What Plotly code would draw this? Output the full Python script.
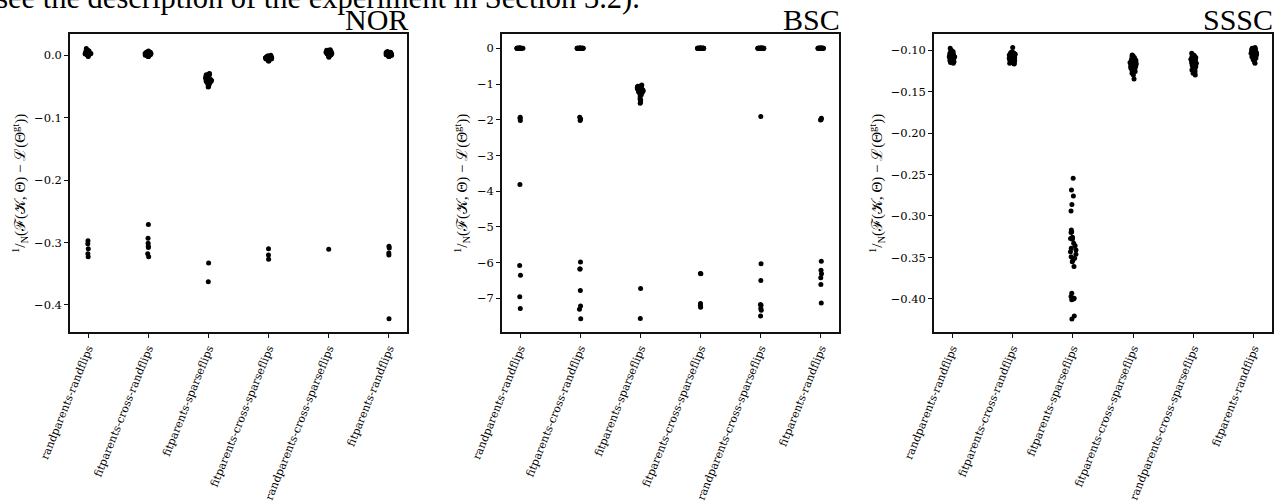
import plotly.graph_objects as go

W, H = 1288, 504

categories = ["randparents-randflips", "fitparents-cross-randflips", "fitparents-sparseflips",
              "fitparents-cross-sparseflips", "randparents-cross-sparseflips", "fitparents-randflips"]

# ---------------- NOR ----------------
nor_randparents_randflips = [0.011, 0.009, 0.008, 0.007, 0.007, 0.006, 0.006, 0.005, 0.005, 0.004, 0.004, 0.004,
                             0.003, 0.003, 0.003, 0.002, 0.002, 0.002, 0.001, 0.001, 0.001, 0.000, 0.000, -0.001,
                             -0.002, -0.297, -0.302, -0.310, -0.318, -0.323]
nor_fitparents_cross_randflips = [0.007, 0.006, 0.005, 0.005, 0.004, 0.004, 0.003, 0.003, 0.003, 0.002, 0.002, 0.002,
                                  0.002, 0.001, 0.001, 0.001, 0.000, 0.000, 0.000, -0.001, -0.001, -0.002, -0.002,
                                  -0.271, -0.293, -0.301, -0.306, -0.308, -0.318, -0.323]
nor_fitparents_sparseflips = [-0.029, -0.030, -0.031, -0.032, -0.033, -0.034, -0.035, -0.035, -0.036, -0.037, -0.037,
                              -0.038, -0.039, -0.039, -0.040, -0.040, -0.041, -0.041, -0.042, -0.042, -0.043, -0.044,
                              -0.045, -0.046, -0.047, -0.048, -0.050, -0.051, -0.333, -0.363]
nor_fitparents_cross_sparseflips = [0.000, -0.001, -0.001, -0.002, -0.002, -0.002, -0.003, -0.003, -0.003, -0.003,
                                    -0.004, -0.004, -0.004, -0.004, -0.005, -0.005, -0.005, -0.006, -0.006, -0.006,
                                    -0.007, -0.007, -0.008, -0.008, -0.009, -0.009, -0.004, -0.310, -0.320, -0.327]
nor_randparents_cross_sparseflips = [0.009, 0.008, 0.008, 0.007, 0.007, 0.006, 0.006, 0.005, 0.005, 0.005, 0.004,
                                     0.004, 0.004, 0.003, 0.003, 0.003, 0.002, 0.002, 0.002, 0.001, 0.001, 0.001,
                                     0.000, 0.000, -0.001, -0.001, -0.002, -0.003, 0.004, -0.311]
nor_fitparents_randflips = [0.006, 0.005, 0.005, 0.004, 0.004, 0.003, 0.003, 0.003, 0.002, 0.002, 0.002, 0.001,
                            0.001, 0.001, 0.001, 0.000, 0.000, 0.000, 0.000, -0.001, -0.001, -0.001, -0.002, -0.002,
                            0.002, -0.306, -0.309, -0.317, -0.320, -0.422]

# ---------------- BSC ----------------
bsc_randparents_randflips = [0.00] * 22 + [-1.93, -1.96, -2.02, -3.81, -6.08, -6.35, -6.95, -7.28]
bsc_fitparents_cross_randflips = [0.00] * 20 + [-1.93, -1.98, -2.02, -5.98, -6.18, -6.18, -6.78, -7.21, -7.30, -7.57]
bsc_fitparents_sparseflips = [-1.03, -1.05, -1.06, -1.07, -1.08, -1.09, -1.10, -1.10, -1.11, -1.12, -1.13, -1.14,
                              -1.15, -1.16, -1.17, -1.18, -1.19, -1.20, -1.22, -1.24, -1.26, -1.28, -1.30, -1.35,
                              -1.42, -1.45, -1.50, -1.54, -6.72, -7.56]
bsc_fitparents_cross_sparseflips = [0.00] * 25 + [-6.30, -6.31, -7.14, -7.19, -7.25]
bsc_randparents_cross_sparseflips = [0.00] * 22 + [-1.91, -6.03, -6.50, -7.17, -7.19, -7.28, -7.33, -7.49]
bsc_fitparents_randflips = [0.00] * 21 + [-1.96, -1.99, -2.01, -5.96, -6.21, -6.31, -6.42, -6.61, -7.13]

# ---------------- SSSC ----------------
sssc_randparents_randflips = [-0.098, -0.100, -0.101, -0.102, -0.103, -0.103, -0.104, -0.104, -0.105, -0.105,
                              -0.106, -0.106, -0.107, -0.107, -0.108, -0.108, -0.108, -0.109, -0.109, -0.110,
                              -0.110, -0.111, -0.111, -0.112, -0.112, -0.113, -0.113, -0.114, -0.115, -0.116]
sssc_fitparents_cross_randflips = [-0.097, -0.102, -0.103, -0.104, -0.104, -0.105, -0.105, -0.106, -0.106, -0.107,
                                   -0.107, -0.108, -0.108, -0.109, -0.109, -0.110, -0.110, -0.111, -0.111, -0.112,
                                   -0.112, -0.113, -0.113, -0.114, -0.114, -0.115, -0.115, -0.116, -0.116, -0.117]
sssc_fitparents_sparseflips = [-0.2546, -0.2687, -0.2759, -0.2863, -0.2940, -0.3169, -0.3190, -0.3200, -0.3257,
                               -0.3270, -0.3280, -0.3330, -0.3360, -0.3390, -0.3410, -0.3430, -0.3460, -0.3490,
                               -0.3510, -0.3530, -0.3550, -0.3610, -0.3930, -0.3970, -0.3990, -0.4000, -0.4010,
                               -0.4205, -0.4240]
sssc_fitparents_cross_sparseflips = [-0.106, -0.107, -0.108, -0.109, -0.110, -0.111, -0.112, -0.112, -0.113, -0.114,
                                     -0.114, -0.115, -0.116, -0.116, -0.117, -0.118, -0.118, -0.119, -0.120, -0.120,
                                     -0.121, -0.122, -0.123, -0.124, -0.125, -0.126, -0.127, -0.128, -0.130, -0.135]
sssc_randparents_cross_sparseflips = [-0.104, -0.106, -0.107, -0.108, -0.109, -0.110, -0.111, -0.112, -0.112, -0.113,
                                      -0.114, -0.114, -0.115, -0.116, -0.116, -0.117, -0.118, -0.118, -0.119, -0.120,
                                      -0.120, -0.121, -0.122, -0.123, -0.124, -0.125, -0.126, -0.127, -0.128, -0.130]
sssc_fitparents_randflips = [-0.097, -0.098, -0.099, -0.100, -0.100, -0.101, -0.101, -0.102, -0.102, -0.103,
                             -0.103, -0.104, -0.104, -0.104, -0.105, -0.105, -0.105, -0.106, -0.106, -0.107,
                             -0.107, -0.108, -0.108, -0.109, -0.109, -0.110, -0.111, -0.112, -0.114, -0.116]

panel_titles = ["NOR", "BSC", "SSSC"]
panel_data = [
    [nor_randparents_randflips, nor_fitparents_cross_randflips, nor_fitparents_sparseflips,
     nor_fitparents_cross_sparseflips, nor_randparents_cross_sparseflips, nor_fitparents_randflips],
    [bsc_randparents_randflips, bsc_fitparents_cross_randflips, bsc_fitparents_sparseflips,
     bsc_fitparents_cross_sparseflips, bsc_randparents_cross_sparseflips, bsc_fitparents_randflips],
    [sssc_randparents_randflips, sssc_fitparents_cross_randflips, sssc_fitparents_sparseflips,
     sssc_fitparents_cross_sparseflips, sssc_randparents_cross_sparseflips, sssc_fitparents_randflips],
]
y_ranges = [[-0.4434, 0.0341], [-7.94, 0.40], [-0.4398, -0.0807]]
y_dticks = [0.1, 1, 0.05]
y_formats = [".1f", "d", ".2f"]

caption = "(see the description of the experiment in Section 3.2)."
ylabel = "<sup>1</sup>/<sub>N</sub>(ℱ(𝒦, Θ) − ℒ(Θ<sup>gt</sup>))"

# pixel layout of the three axes boxes
x_px = [(70, 407), (502, 839), (934, 1272)]
y_px = (34, 332)
ylabel_x_px = [20, 462, 877]

SERIF = "DejaVu Serif"
TITLE_FONT = "Liberation Serif"

fig = go.Figure()
for i, data in enumerate(panel_data):
    xs, ys = [], []
    for cat, vals in zip(categories, data):
        xs += [cat] * len(vals)
        ys += vals
    sfx = "" if i == 0 else str(i + 1)
    fig.add_trace(go.Box(
        x=xs, y=ys, xaxis="x" + sfx, yaxis="y" + sfx,
        boxpoints="all", jitter=0.22, pointpos=0,
        fillcolor="rgba(0,0,0,0)", line=dict(color="rgba(0,0,0,0)", width=0),
        marker=dict(color="black", size=5, line=dict(width=0)),
        showlegend=False, hoveron="points",
    ))

layout = dict(
    template="none",
    width=W, height=H, paper_bgcolor="white", plot_bgcolor="white",
    margin=dict(l=0, r=0, t=0, b=0, pad=0, autoexpand=False), showlegend=False,
    font=dict(family=SERIF, color="black"),
)
annotations = []
for i in range(3):
    sfx = "" if i == 0 else str(i + 1)
    x0, x1 = x_px[i]
    layout["xaxis" + sfx] = dict(
        domain=[x0 / W, x1 / W], anchor="y" + sfx, automargin=False,
        type="category", categoryorder="array", categoryarray=categories,
        range=[-0.3, 5.3], showline=True, mirror=True, linecolor="#111", linewidth=1.5,
        ticks="outside", ticklen=4, tickwidth=1, tickcolor="#111", showgrid=False, zeroline=False,
        tickangle=-68, tickfont=dict(family=SERIF, size=11, color="black"),
    )
    layout["yaxis" + sfx] = dict(
        domain=[1 - y_px[1] / H, 1 - y_px[0] / H], anchor="x" + sfx, automargin=False,
        range=y_ranges[i], dtick=y_dticks[i], tickformat=y_formats[i],
        showline=True, mirror=True, linecolor="#111", linewidth=1.5,
        ticks="outside", ticklen=4, tickwidth=1, tickcolor="#111", showgrid=False, zeroline=False,
        tickfont=dict(family=SERIF, size=11.5, color="black"),
    )
    annotations.append(dict(
        text=panel_titles[i], xref="paper", yref="paper", x=(x1 + 3) / W, y=1 - 38 / H,
        xanchor="right", yanchor="bottom", showarrow=False,
        font=dict(family=TITLE_FONT, size=30, color="black"),
    ))
    annotations.append(dict(
        text=ylabel, xref="paper", yref="paper", x=ylabel_x_px[i] / W, y=1 - 184 / H,
        xanchor="center", yanchor="middle", textangle=-90, showarrow=False,
        font=dict(family=TITLE_FONT, size=15, color="black"),
    ))
annotations.append(dict(
    text=caption, xref="paper", yref="paper", x=642 / W, y=1 - 17.5 / H,
    xanchor="right", yanchor="bottom", showarrow=False,
    font=dict(family=TITLE_FONT, size=30.5, color="black"),
))
layout["annotations"] = annotations
fig.update_layout(**layout)
fig.write_html("out.html", config={"displayModeBar": False},
               post_script="document.body.style.margin='0';")
